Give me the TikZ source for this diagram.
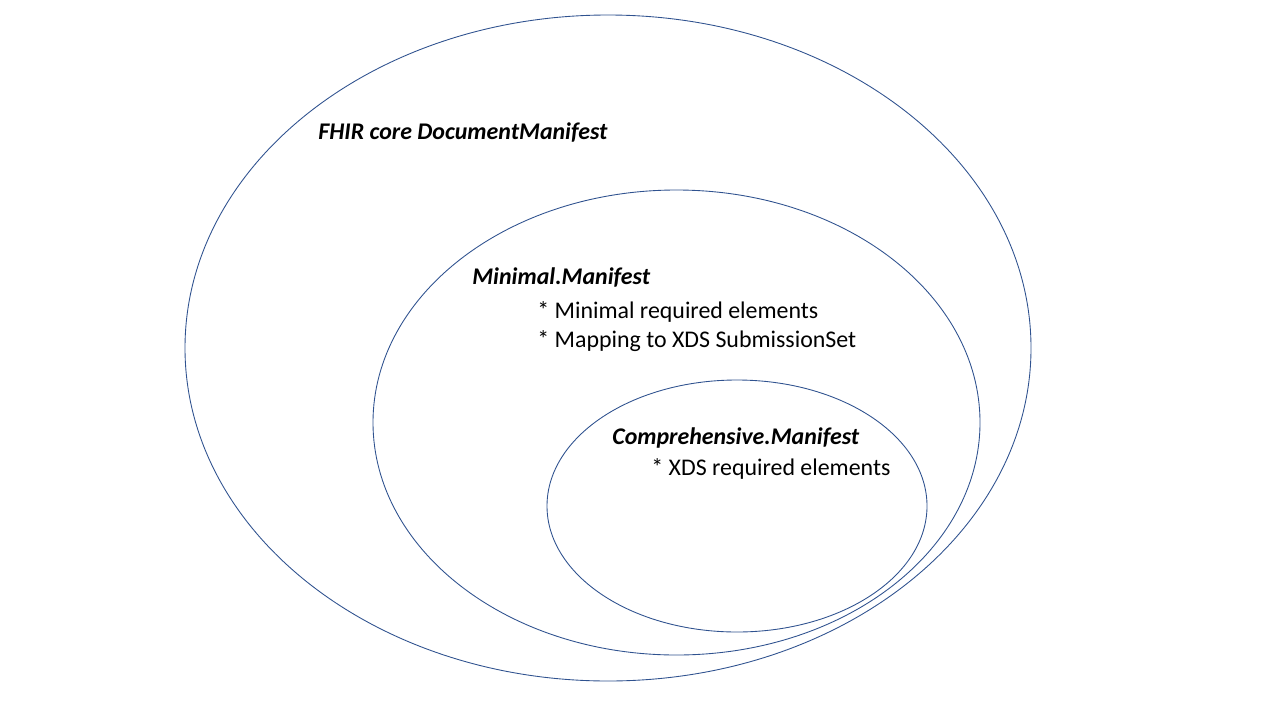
\documentclass[tikz,border=0pt]{standalone}
\usepackage{fontspec}
\setmainfont{Carlito}
\definecolor{ringblue}{HTML}{2F528F}

\begin{document}
\begin{tikzpicture}[x=0.02cm, y=-0.02cm,
    ring/.style={draw=ringblue, line width=0.5pt},
    settitle/.style={anchor=base west, inner sep=0pt, font=\fontsize{13.6}{16}\selectfont\bfseries\itshape},
    setitem/.style={anchor=base west, inner sep=0pt, font=\fontsize{13.6}{16}\selectfont}]

    \useasboundingbox (0,0) rectangle (1280,720);

    % nested sets
    \draw[ring] (608,348) ellipse (423 and 333);
    \draw[ring] (676.5,422.5) ellipse (303.5 and 232.5);
    \draw[ring] (737,506) ellipse (190 and 126);

    \node[settitle] (core) at (318,139) {FHIR core DocumentManifest};

    \node[settitle] (minimal) at (472,284) {Minimal.Manifest};
    \node[setitem] (minreq) at (537,318) {* Minimal required elements};
    \node[setitem] (minmap) at (537,347) {* Mapping to XDS SubmissionSet};

    \node[settitle] (compr) at (612,444) {Comprehensive.Manifest};
    \node[setitem] (xdsreq) at (651,475) {* XDS required elements};

\end{tikzpicture}
\end{document}
